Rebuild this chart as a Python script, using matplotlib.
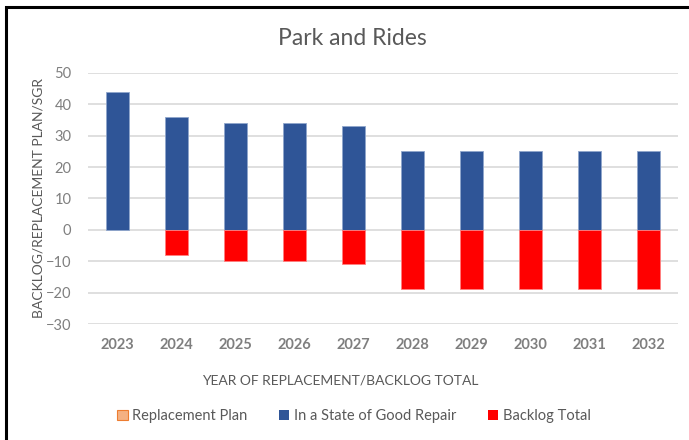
import numpy as np
import matplotlib
matplotlib.use('Agg')
import matplotlib.pyplot as plt
from matplotlib.patches import Patch, Rectangle

plt.rcParams['font.family'] = ['Lato', 'DejaVu Sans']

# Park and Ride assets by year
years = ['2023', '2024', '2025', '2026', '2027', '2028', '2029', '2030', '2031', '2032']
replacement_plan = [0, 0, 0, 0, 0, 0, 0, 0, 0, 0]
good_repair = [44, 36, 34, 34, 33, 25, 25, 25, 25, 25]
backlog_total = [0, -8, -10, -10, -11, -19, -19, -19, -19, -19]

blue = '#2F5597'
red = '#FF0000'
orange = '#F4B183'
grey_text = '#7F7F7F'

fig = plt.figure(figsize=(6.89, 4.40), dpi=100)
ax = fig.add_axes([88 / 689, 1 - 324 / 440, 590 / 689, 251 / 440])

x = np.arange(len(years))
w = 0.39
ax.bar(x, replacement_plan, w, color=orange, linewidth=0, zorder=3)
ax.bar(x, good_repair, w, color=blue, edgecolor='#8FA6CC',
       linewidth=[0.6 if v else 0 for v in good_repair], zorder=3)
ax.bar(x, backlog_total, w, color=red, edgecolor='#FF8080',
       linewidth=[0.6 if v else 0 for v in backlog_total], zorder=3)

ax.set_xlim(-0.5, len(years) - 0.5)
ax.set_ylim(-30, 50)
ax.set_yticks(range(-30, 51, 10))
ax.set_xticks(x)
ax.set_xticklabels(years, fontweight='bold')
ax.grid(axis='y', color='#D9D9D9', linewidth=1.2, zorder=0)
for s in ax.spines.values():
    s.set_visible(False)
ax.tick_params(axis='both', length=0, colors=grey_text, labelsize=10.5)
ax.tick_params(axis='x', pad=10)
ax.tick_params(axis='y', pad=12)

ax.set_ylabel('BACKLOG/REPLACEMENT PLAN/SGR', color='#595959', fontsize=10, labelpad=1)
fig.text(340 / 689, 1 - 380 / 440, 'YEAR OF REPLACEMENT/BACKLOG TOTAL', color='#595959',
         fontsize=10, ha='center', va='center')
fig.text(352 / 689, 1 - 38 / 440, 'Park and Rides', color='#595959', fontsize=16.5,
         ha='center', va='center')

handles = [Patch(facecolor=orange, edgecolor='#ED7D31', linewidth=0.8),
           Patch(facecolor=blue), Patch(facecolor=red)]
fig.legend(handles, ['Replacement Plan', 'In a State of Good Repair', 'Backlog Total'],
           loc='center', bbox_to_anchor=(354 / 689, 1 - 416 / 440), ncol=3, frameon=False,
           fontsize=10.5, labelcolor='#595959', handlelength=0.7, handleheight=0.7,
           handletextpad=0.3, columnspacing=2.2)

# chart frame: left and top edges only
fig.add_artist(Rectangle((6 / 689, -0.1), 1.2, 1.1 - 7 / 440, transform=fig.transFigure,
                         fill=False, edgecolor='black', linewidth=2.2))

fig.savefig('out.png', dpi=100)
